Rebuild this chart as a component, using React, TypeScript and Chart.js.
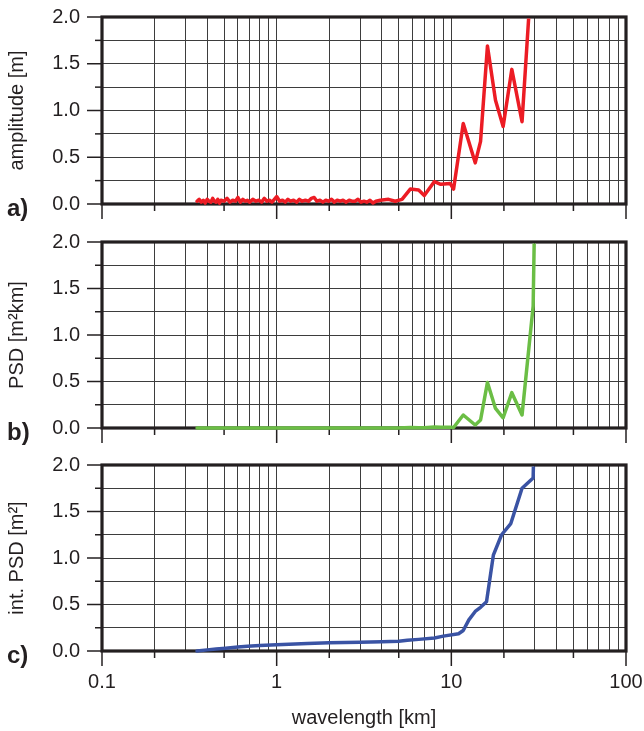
import React, { useEffect, useRef } from 'react';
import { Chart, registerables } from 'chart.js';

Chart.register(...registerables);

// ---- data -------------------------------------------------------------
const ampWavelength = [
  0.35, 0.36, 0.37, 0.38, 0.39, 0.40, 0.41, 0.42, 0.43, 0.44, 0.45, 0.46, 0.47, 0.48,
  0.50, 0.52, 0.54, 0.56, 0.58, 0.60, 0.62, 0.64, 0.66, 0.68, 0.70,
  0.73, 0.76, 0.79, 0.82, 0.85, 0.88, 0.91, 0.94, 0.97, 1.00,
  1.04, 1.08, 1.12, 1.16, 1.20,
  1.25, 1.30, 1.35, 1.40,
  1.46, 1.52, 1.58, 1.64, 1.70,
  1.77, 1.84, 1.91, 1.98,
  2.06, 2.14, 2.22,
  2.31, 2.40,
  2.50, 2.60, 2.70,
  2.81, 2.92,
  3.04, 3.16,
  3.29, 3.42, 3.56, 3.70,
  3.92, 4.37, 4.77, 5.22,
  5.82, 6.5, 7.0, 8.0, 8.7, 9.85, 10.3,
  11.7, 13.7, 14.7, 16.1, 17.9, 19.8, 22.2, 25.4, 29.4, 35,
];
const ampValues = [
  0.03, 0.05, 0.02, 0.04, 0.01, 0.05, 0.03, 0.02, 0.06, 0.03, 0.02, 0.05, 0.01, 0.04,
  0.03, 0.06, 0.02, 0.04, 0.03, 0.07, 0.02, 0.05, 0.03, 0.04, 0.02,
  0.05, 0.03, 0.04, 0.02, 0.06, 0.03, 0.04, 0.02, 0.05, 0.08,
  0.03, 0.04, 0.02, 0.05, 0.03,
  0.04, 0.02, 0.05, 0.03,
  0.04, 0.03, 0.06, 0.07, 0.03,
  0.04, 0.02, 0.04, 0.03,
  0.05, 0.02, 0.04,
  0.03, 0.04,
  0.02, 0.04, 0.03,
  0.03, 0.05,
  0.02, 0.03,
  0.02, 0.04, 0.01, 0.03,
  0.04, 0.05, 0.03, 0.05,
  0.16, 0.15, 0.09, 0.24, 0.21, 0.22, 0.16,
  0.86, 0.44, 0.67, 1.69, 1.11, 0.83, 1.44, 0.88, 2.74, 7.6,
];

const psdWavelength = [
  0.35, 0.5, 0.8, 1.2, 2, 3, 4, 5, 5.82, 6.5, 7.0, 8.0, 8.7, 9.85, 10.3,
  11.7, 13.7, 14.7, 16.1, 17.9, 19.8, 22.2, 25.4, 29.4, 35,
];
const psdValues = [
  0.0002, 0.0003, 0.0003, 0.0002, 0.0003, 0.0002, 0.0004, 0.0005, 0.005, 0.004, 0.0015, 0.011, 0.008, 0.009, 0.005,
  0.14, 0.032, 0.086, 0.49, 0.21, 0.11, 0.38, 0.14, 1.31, 10,
];

const intWavelength = [
  0.35, 0.4, 0.45, 0.51, 0.6, 0.68, 0.8, 1.0, 1.5, 2.0, 3.0, 4.0, 5.0, 5.6, 6.5, 8.0, 9.0,
  11.0, 11.7, 12.6, 13.7, 14.7, 15.9, 17.4, 19.4, 21.9, 25.4, 29.4, 35,
];
const intValues = [
  0, 0.012, 0.022, 0.03, 0.042, 0.05, 0.058, 0.068, 0.08, 0.09, 0.095, 0.1, 0.105, 0.115, 0.125, 0.14, 0.16,
  0.186, 0.22, 0.335, 0.425, 0.47, 0.53, 1.03, 1.25, 1.37, 1.75, 1.86, 8,
];

// axis values
const xGridValues = [
  0.1, 0.2, 0.3, 0.4, 0.5, 0.6, 0.7, 0.8, 0.9,
  1, 2, 3, 4, 5, 6, 7, 8, 9,
  10, 20, 30, 40, 50, 60, 70, 80, 90, 100,
];
const xTickMarks = [0.1, 0.2, 0.5, 1, 2, 5, 10, 20, 50, 100];
const xLabelValues = [0.1, 1, 10, 100];
const yGridValues = [0, 0.25, 0.5, 0.75, 1, 1.25, 1.5, 1.75, 2];
const yLabelValues = [0, 0.5, 1, 1.5, 2];

const INK = '#231f20';
const FONT = 'Liberation Sans, Arial, sans-serif';

const isDecade = (v: number) => Math.abs(Math.log10(v) - Math.round(Math.log10(v))) < 1e-9;

const framePlugin = {
  id: 'frame',
  beforeDatasetsDraw(chart: any, _args: any, opts: any) {
    const { ctx, chartArea, scales } = chart;
    const { left, right, top, bottom } = chartArea;
    const x = scales.x;
    const y = scales.y;
    ctx.save();
    ctx.strokeStyle = INK;
    ctx.lineWidth = 1.5;
    xTickMarks.forEach((v) => {
      const px = x.getPixelForValue(v);
      const len = isDecade(v) ? 15 : 7;
      ctx.beginPath();
      ctx.moveTo(px, bottom);
      ctx.lineTo(px, bottom + len);
      ctx.stroke();
    });
    yGridValues.forEach((v) => {
      const py = y.getPixelForValue(v);
      const len = yLabelValues.includes(v) ? 15 : 7;
      ctx.beginPath();
      ctx.moveTo(left, py);
      ctx.lineTo(left - len, py);
      ctx.stroke();
    });
    ctx.lineWidth = 3.2;
    ctx.strokeRect(left, top, right - left, bottom - top);
    ctx.fillStyle = INK;
    ctx.font = `bold 24px ${FONT}`;
    ctx.textAlign = 'left';
    ctx.textBaseline = 'middle';
    ctx.fillText(opts.letter, 7, bottom + 5);
    ctx.restore();
  },
};

function makeConfig(
  xs: number[],
  ys: number[],
  color: string,
  yTitle: string,
  letter: string,
  padTop: number,
  xAxisHeight: number,
  showX: boolean
): any {
  return {
    type: 'line',
    data: {
      datasets: [
        {
          data: xs.map((v, i) => ({ x: v, y: ys[i] })),
          borderColor: color,
          backgroundColor: color,
          borderWidth: 3.5,
          pointRadius: 0,
          tension: 0,
          fill: false,
          borderJoinStyle: 'round',
          borderCapStyle: 'round',
          clip: { left: 4, top: -1.6, right: 0, bottom: 4 },
        },
      ],
    },
    options: {
      animation: false,
      responsive: false,
      devicePixelRatio: 1,
      events: [],
      layout: { padding: { top: padTop, right: 18, bottom: 0, left: 0 } },
      plugins: {
        legend: { display: false },
        tooltip: { enabled: false },
        frame: { letter },
      },
      scales: {
        x: {
          type: 'logarithmic',
          min: 0.1,
          max: 100,
          afterFit: (s: any) => {
            s.height = xAxisHeight;
            s.paddingLeft = 0;
            s.paddingRight = 0;
            s.paddingTop = 0;
            s.paddingBottom = 0;
          },
          afterBuildTicks: (s: any) => {
            s.ticks = xGridValues.map((v) => ({ value: v }));
          },
          ticks: {
            display: showX,
            autoSkip: false,
            maxRotation: 0,
            minRotation: 0,
            padding: 19,
            color: INK,
            font: { family: FONT, size: 20 },
            callback: (v: number) => (xLabelValues.includes(v) ? String(v) : ''),
          },
          grid: { color: '#3d3d3d', lineWidth: 1, drawTicks: false },
          border: { display: false },
          title: {
            display: showX,
            text: 'wavelength [km]',
            color: INK,
            font: { family: FONT, size: 20 },
            padding: { top: 0, bottom: 1 },
          },
        },
        y: {
          min: 0,
          max: 2,
          afterFit: (s: any) => {
            s.width = 102;
            s.paddingLeft = 0;
            s.paddingRight = 0;
            s.paddingTop = 0;
            s.paddingBottom = 0;
          },
          afterBuildTicks: (s: any) => {
            s.ticks = yGridValues.map((v) => ({ value: v }));
          },
          ticks: {
            autoSkip: false,
            padding: 22,
            color: INK,
            font: { family: FONT, size: 20 },
            callback: (v: number) => (yLabelValues.includes(v) ? Number(v).toFixed(1) : ''),
          },
          grid: { color: '#3d3d3d', lineWidth: 1, drawTicks: false },
          border: { display: false },
          title: {
            display: true,
            text: yTitle,
            color: INK,
            font: { family: FONT, size: 20 },
            padding: { top: 5, bottom: 0 },
          },
        },
      },
    },
    plugins: [framePlugin],
  };
}

export default function App() {
  const refA = useRef<HTMLCanvasElement>(null);
  const refB = useRef<HTMLCanvasElement>(null);
  const refC = useRef<HTMLCanvasElement>(null);

  useEffect(() => {
    const charts = [
      new Chart(refA.current as HTMLCanvasElement, makeConfig(ampWavelength, ampValues, '#ec1c24', 'amplitude [m]', 'a)', 17, 20, false)),
      new Chart(refB.current as HTMLCanvasElement, makeConfig(psdWavelength, psdValues, '#6bbe45', 'PSD [m\u00B2km]', 'b)', 18, 18, false)),
      new Chart(refC.current as HTMLCanvasElement, makeConfig(intWavelength, intValues, '#3a53a4', 'int. PSD [m\u00B2]', 'c)', 19, 80, true)),
    ];
    return () => charts.forEach((c) => c.destroy());
  }, []);

  return (
    <div style={{ position: 'absolute', left: 0, top: 0, width: 644, height: 731, background: '#fff', overflow: 'hidden' }}>
      <canvas ref={refA} width={644} height={224} style={{ position: 'absolute', left: 0, top: 0 }} />
      <canvas ref={refB} width={644} height={222} style={{ position: 'absolute', left: 0, top: 224 }} />
      <canvas ref={refC} width={644} height={285} style={{ position: 'absolute', left: 0, top: 446 }} />
    </div>
  );
}
